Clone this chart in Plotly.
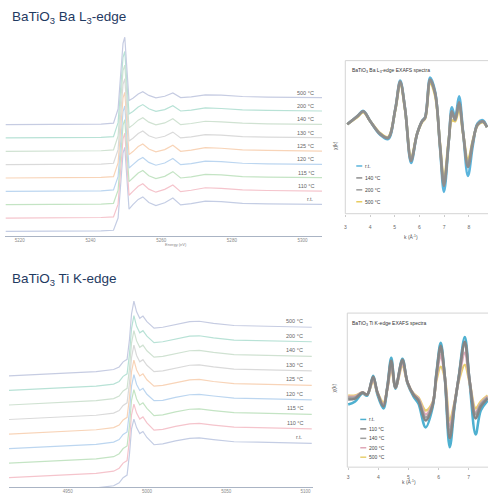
import numpy as np
import plotly.graph_objects as go

W, H = 488, 494

# ---------------- data ----------------
temps = ["r.t.", "110 °C", "115 °C", "120 °C", "125 °C", "130 °C", "140 °C", "200 °C", "500 °C"]

# Ba L3-edge XANES (normalised absorption)
E_ba = [5216, 5225, 5235, 5243, 5246.5, 5247.8, 5248.6, 5249.2, 5249.7, 5250.2, 5250.9, 5252,
        5253.5, 5254.8, 5256.5, 5258.5, 5261, 5263.3, 5265.5, 5268.5, 5272.5, 5277, 5283, 5290, 5298, 5305.5]
ba_rt  = [0.00, 0.00, 0.01, 0.02, 0.04, 0.48, 1.80, 2.82, 3.02, 2.12, 0.80, 0.96, 1.15, 1.24, 1.04, 0.93, 1.03, 1.20, 0.95, 1.00, 1.09, 1.07, 1.01, 0.99, 0.98, 0.97]
ba_110 = [0.00, 0.00, 0.01, 0.02, 0.04, 0.50, 1.83, 2.85, 3.05, 2.15, 0.82, 0.96, 1.14, 1.23, 1.04, 0.93, 1.03, 1.19, 0.95, 1.00, 1.09, 1.07, 1.01, 0.99, 0.98, 0.97]
ba_115 = [0.00, 0.00, 0.01, 0.02, 0.05, 0.52, 1.85, 2.86, 3.06, 2.16, 0.83, 0.96, 1.14, 1.23, 1.04, 0.94, 1.02, 1.19, 0.96, 1.00, 1.09, 1.07, 1.01, 0.99, 0.98, 0.97]
ba_120 = [0.00, 0.00, 0.01, 0.02, 0.05, 0.53, 1.86, 2.87, 3.07, 2.17, 0.84, 0.96, 1.13, 1.22, 1.04, 0.94, 1.02, 1.18, 0.96, 1.00, 1.09, 1.07, 1.01, 0.99, 0.98, 0.97]
ba_125 = [0.00, 0.00, 0.01, 0.02, 0.05, 0.54, 1.87, 2.88, 3.08, 2.18, 0.84, 0.95, 1.13, 1.22, 1.04, 0.94, 1.02, 1.18, 0.96, 1.00, 1.09, 1.07, 1.01, 0.99, 0.98, 0.97]
ba_130 = [0.00, 0.00, 0.01, 0.02, 0.05, 0.54, 1.88, 2.89, 3.09, 2.19, 0.85, 0.95, 1.12, 1.21, 1.04, 0.95, 1.02, 1.17, 0.96, 1.00, 1.08, 1.06, 1.01, 0.99, 0.98, 0.97]
ba_140 = [0.00, 0.00, 0.01, 0.02, 0.05, 0.55, 1.89, 2.90, 3.10, 2.20, 0.85, 0.95, 1.12, 1.21, 1.05, 0.95, 1.02, 1.17, 0.96, 1.00, 1.08, 1.06, 1.01, 0.99, 0.98, 0.97]
ba_200 = [0.00, 0.00, 0.01, 0.02, 0.05, 0.55, 1.90, 2.90, 3.11, 2.20, 0.86, 0.95, 1.11, 1.20, 1.05, 0.96, 1.02, 1.16, 0.97, 1.00, 1.08, 1.06, 1.01, 0.99, 0.98, 0.97]
ba_500 = [0.00, 0.00, 0.01, 0.02, 0.05, 0.56, 1.92, 2.92, 3.14, 2.22, 0.87, 0.95, 1.10, 1.18, 1.05, 0.96, 1.02, 1.14, 0.97, 1.00, 1.07, 1.06, 1.01, 0.99, 0.98, 0.97]
ba_xanes = [ba_rt, ba_110, ba_115, ba_120, ba_125, ba_130, ba_140, ba_200, ba_500]
ba_ticks = [5220, 5240, 5260, 5280, 5300]

# Ti K-edge XANES (normalised absorption)
E_ti = [4913, 4930, 4950, 4968, 4979, 4982.5, 4985, 4987.5, 4989, 4990.3, 4991.8, 4993.5, 4995.5,
        4997.5, 5000, 5004.5, 5010, 5018, 5027, 5033, 5042, 5055, 5070, 5088, 5104]
ti_rt  = [-0.15, -0.12, -0.09, -0.05, 0.00, 0.07, 0.19, 0.25, 0.74, 1.33, 1.56, 1.36, 1.22, 1.27, 1.13, 0.96, 0.98, 1.05, 1.11, 1.12, 1.08, 1.03, 1.02, 1.00, 0.99]
ti_110 = [-0.15, -0.12, -0.09, -0.05, 0.00, 0.07, 0.19, 0.25, 0.73, 1.32, 1.57, 1.36, 1.22, 1.27, 1.13, 0.96, 0.98, 1.05, 1.11, 1.12, 1.08, 1.03, 1.02, 1.00, 0.99]
ti_115 = [-0.15, -0.12, -0.09, -0.05, 0.00, 0.07, 0.19, 0.25, 0.72, 1.32, 1.57, 1.35, 1.21, 1.26, 1.13, 0.96, 0.98, 1.05, 1.11, 1.12, 1.08, 1.03, 1.02, 1.00, 0.99]
ti_120 = [-0.15, -0.12, -0.09, -0.05, 0.00, 0.06, 0.18, 0.24, 0.72, 1.31, 1.58, 1.35, 1.21, 1.26, 1.12, 0.97, 0.98, 1.05, 1.11, 1.12, 1.08, 1.03, 1.02, 1.00, 0.99]
ti_125 = [-0.15, -0.12, -0.09, -0.05, 0.00, 0.06, 0.18, 0.24, 0.71, 1.31, 1.58, 1.35, 1.21, 1.26, 1.12, 0.97, 0.99, 1.05, 1.12, 1.13, 1.08, 1.03, 1.02, 1.00, 0.99]
ti_130 = [-0.15, -0.12, -0.09, -0.05, 0.00, 0.06, 0.18, 0.24, 0.71, 1.30, 1.59, 1.35, 1.20, 1.25, 1.12, 0.97, 0.99, 1.05, 1.12, 1.13, 1.08, 1.03, 1.02, 1.00, 0.99]
ti_140 = [-0.15, -0.12, -0.09, -0.05, 0.00, 0.06, 0.18, 0.24, 0.70, 1.30, 1.59, 1.35, 1.20, 1.25, 1.12, 0.97, 0.99, 1.05, 1.12, 1.13, 1.08, 1.03, 1.02, 1.00, 0.99]
ti_200 = [-0.15, -0.12, -0.09, -0.05, 0.00, 0.06, 0.18, 0.24, 0.70, 1.30, 1.60, 1.35, 1.20, 1.25, 1.12, 0.97, 0.99, 1.05, 1.12, 1.13, 1.08, 1.03, 1.02, 1.00, 0.99]
ti_500 = [-0.15, -0.12, -0.09, -0.05, 0.00, 0.06, 0.18, 0.24, 0.70, 1.30, 1.60, 1.35, 1.20, 1.25, 1.12, 0.97, 0.99, 1.05, 1.12, 1.13, 1.08, 1.03, 1.02, 1.00, 0.99]
ti_xanes = [ti_rt, ti_110, ti_115, ti_120, ti_125, ti_130, ti_140, ti_200, ti_500]
ti_ticks = [4950, 5000, 5050, 5100]

# Ba L3-edge EXAFS
ba_exafs_names = ["r.t.", "140 °C", "200 °C", "500 °C"]
k_ba = [3.08, 3.48, 3.73, 4.01, 4.41, 4.73, 5.02, 5.22, 5.42, 5.66, 5.90, 6.10, 6.23, 6.43,
        6.63, 6.83, 6.99, 7.19, 7.31, 7.44, 7.60, 7.76, 7.96, 8.16, 8.35, 8.56, 8.73]
chi_ba_rt  = [0.25, 0.65, 0.92, 0.40, -0.28, -0.50, 1.00, 2.45, 1.00, -1.70, -0.25, 0.40, 0.62, 2.60, 1.90, -0.95, -3.15, -0.50, 1.10, 0.60, 1.65, -0.10, -2.35, -0.80, 0.30, 0.45, 0.10]
chi_ba_140 = [0.25, 0.65, 0.90, 0.40, -0.25, -0.45, 1.00, 2.40, 1.00, -1.60, -0.25, 0.40, 0.60, 2.50, 1.85, -0.85, -2.85, -0.50, 0.90, 0.50, 1.35, -0.15, -1.90, -0.65, 0.25, 0.40, 0.10]
chi_ba_200 = [0.25, 0.63, 0.88, 0.40, -0.22, -0.42, 0.98, 2.35, 0.98, -1.52, -0.25, 0.38, 0.58, 2.42, 1.80, -0.80, -2.70, -0.50, 0.80, 0.45, 1.25, -0.15, -1.75, -0.60, 0.22, 0.38, 0.10]
chi_ba_500 = [0.25, 0.60, 0.85, 0.40, -0.20, -0.40, 0.95, 2.30, 0.95, -1.45, -0.25, 0.35, 0.55, 2.30, 1.70, -0.75, -2.55, -0.45, 0.45, 0.40, 1.05, -0.20, -1.55, -0.55, 0.20, 0.35, 0.10]
ba_exafs = [chi_ba_rt, chi_ba_140, chi_ba_200, chi_ba_500]

# Ti K-edge EXAFS
ti_exafs_names = ["r.t.", "110 °C", "140 °C", "200 °C", "500 °C"]
k_ti = [3.00, 3.23, 3.47, 3.63, 3.83, 3.97, 4.17, 4.30, 4.43, 4.57, 4.80, 4.97, 5.17, 5.33,
        5.57, 5.80, 5.93, 6.07, 6.20, 6.37, 6.53, 6.67, 6.87, 7.03, 7.23, 7.40, 7.63]
chi_ti_rt  = [-0.60, -0.45, -0.05, -0.15, 0.85, -0.10, -0.80, 0.30, 1.75, 0.20, 1.70, 0.45, -0.20, -0.55, -1.75, -0.75, 1.00, 2.50, 0.90, -2.75, -0.70, 0.80, 2.80, 0.50, -2.10, -0.90, -0.40]
chi_ti_110 = [-0.35, -0.30, 0.00, -0.10, 0.80, 0.00, -0.70, 0.28, 1.60, 0.25, 1.65, 0.50, -0.12, -0.40, -1.40, -0.65, 0.95, 2.35, 0.90, -2.30, -0.62, 0.78, 2.55, 0.60, -1.30, -0.70, -0.30]
chi_ti_140 = [-0.25, -0.25, 0.00, -0.10, 0.75, 0.00, -0.65, 0.25, 1.50, 0.25, 1.60, 0.50, -0.10, -0.35, -1.25, -0.60, 0.90, 2.25, 0.90, -2.00, -0.60, 0.75, 2.50, 0.60, -1.10, -0.60, -0.25]
chi_ti_200 = [-0.20, -0.20, 0.00, -0.10, 0.70, 0.00, -0.60, 0.22, 1.40, 0.25, 1.50, 0.50, -0.08, -0.30, -1.10, -0.55, 0.80, 1.90, 0.85, -1.70, -0.55, 0.70, 2.00, 0.55, -1.00, -0.55, -0.20]
chi_ti_500 = [-0.15, -0.15, 0.00, -0.10, 0.60, 0.00, -0.50, 0.20, 1.25, 0.25, 1.35, 0.50, -0.05, -0.25, -0.90, -0.50, 0.65, 1.30, 0.80, -1.40, -0.50, 0.60, 1.40, 0.50, -0.80, -0.45, -0.15]
ti_exafs = [chi_ti_rt, chi_ti_110, chi_ti_140, chi_ti_200, chi_ti_500]
k_ticks_ba = [3, 4, 5, 6, 7, 8]
k_ticks_ti = [3, 4, 5, 6, 7]

# ---------------- styles ----------------
xanes_colors = ["#c4cde4", "#f5c4cc", "#c4e4c4", "#bcd6f0", "#f8d4b8",
                "#dadada", "#d0e2d2", "#b8e2d6", "#c6cce2"]
ba_exafs_colors = ["#5ab4dc", "#8e8e8e", "#9c9c9c", "#e8cc60"]
ba_exafs_order = [0, 3, 2, 1]
ti_exafs_colors = ["#4eb0d0", "#858585", "#a0a0a0", "#e0a8b8", "#e8d070"]
ti_exafs_order = [0, 4, 3, 2, 1]
NAVY = "#1f3a62"
FONT = "Liberation Sans, Arial, sans-serif"


def px(p):
    return p / W


def py(p):
    return 1 - p / H


fig = go.Figure()

# Ba XANES stack (x / y)
ba_off = 0.48
for i, (vals, col) in enumerate(zip(ba_xanes, xanes_colors)):
    fig.add_trace(go.Scatter(x=E_ba, y=np.array(vals) + i * ba_off, mode="lines",
                             line=dict(color=col, width=1.2), xaxis="x", yaxis="y",
                             showlegend=False, hoverinfo="skip"))
# Ti XANES stack (x2 / y2)
ti_off = 0.34
for i, (vals, col) in enumerate(zip(ti_xanes, xanes_colors)):
    fig.add_trace(go.Scatter(x=E_ti, y=np.array(vals) + i * ti_off, mode="lines",
                             line=dict(color=col, width=1.2), xaxis="x2", yaxis="y2",
                             showlegend=False, hoverinfo="skip"))
# Ba EXAFS (x3 / y3)
for j in ba_exafs_order:
    fig.add_trace(go.Scatter(x=k_ba, y=ba_exafs[j], mode="lines",
                             line=dict(color=ba_exafs_colors[j], width=2.6, shape="spline"),
                             xaxis="x3", yaxis="y3", showlegend=False, hoverinfo="skip"))
# Ti EXAFS (x4 / y4)
for j in ti_exafs_order:
    fig.add_trace(go.Scatter(x=k_ti, y=ti_exafs[j], mode="lines",
                             line=dict(color=ti_exafs_colors[j], width=2.6, shape="spline"),
                             xaxis="x4", yaxis="y4", showlegend=False, hoverinfo="skip"))

annotations = []
shapes = []

# temperature labels at the right of the stacks
for i, (t, vals) in enumerate(zip(temps, ba_xanes)):
    annotations.append(dict(x=5303.7, y=vals[-1] + i * ba_off, xref="x", yref="y", text=t,
                            showarrow=False, xanchor="right", yanchor="middle", yshift=5,
                            font=dict(size=5.5, color="#666666", family=FONT)))
for i, (t, vals) in enumerate(zip(temps, ti_xanes)):
    annotations.append(dict(x=5099.9, y=vals[-1] + i * ti_off, xref="x2", yref="y2", text=t,
                            showarrow=False, xanchor="right", yanchor="middle", yshift=6,
                            font=dict(size=5.5, color="#666666", family=FONT)))

# panel titles
annotations.append(dict(x=px(9), y=py(18), xref="paper", yref="paper", showarrow=False,
                        text="BaTiO<sub>3</sub> Ba L<sub>3</sub>-edge", xanchor="left", yanchor="middle",
                        font=dict(size=13.5, color=NAVY, family=FONT)))
annotations.append(dict(x=px(9), y=py(281), xref="paper", yref="paper", showarrow=False,
                        text="BaTiO<sub>3</sub> Ti K-edge", xanchor="left", yanchor="middle",
                        font=dict(size=13.5, color=NAVY, family=FONT)))

# EXAFS inner titles
annotations.append(dict(x=px(350), y=py(71), xref="paper", yref="paper", showarrow=False,
                        text="BaTiO<sub>3</sub> Ba L<sub>3</sub>-edge EXAFS spectra", xanchor="left",
                        yanchor="middle", font=dict(size=5, color="#333333", family=FONT)))
annotations.append(dict(x=px(350), y=py(325), xref="paper", yref="paper", showarrow=False,
                        text="BaTiO<sub>3</sub> Ti K-edge EXAFS spectra", xanchor="left",
                        yanchor="middle", font=dict(size=5, color="#333333", family=FONT)))
# EXAFS y titles
for yy in (140, 397):
    annotations.append(dict(x=px(339), y=py(yy), xref="paper", yref="paper", showarrow=False,
                            text="χ(k)", textangle=-90, font=dict(size=5, color="#555555", family=FONT)))
# EXAFS x titles
annotations.append(dict(x=px(420), y=py(238), xref="paper", yref="paper", showarrow=False,
                        text="k (Å<sup>-1</sup>)", font=dict(size=5, color="#555555", family=FONT)))
annotations.append(dict(x=px(418), y=py(490), xref="paper", yref="paper", showarrow=False,
                        text="k (Å<sup>-1</sup>)", font=dict(size=5, color="#555555", family=FONT)))
# XANES x title (Ba)
annotations.append(dict(x=px(162), y=py(246), xref="paper", yref="paper", showarrow=False,
                        text="Energy (eV)", font=dict(size=4, color="#888888", family=FONT)))

# EXAFS frames (cut by the right edge of the picture)
shapes.append(dict(type="rect", xref="paper", yref="paper", x0=px(345), x1=1.05, y0=py(215), y1=py(61),
                   line=dict(color="#d4d4d4", width=1), layer="below"))
shapes.append(dict(type="rect", xref="paper", yref="paper", x0=px(347), x1=1.05, y0=py(470), y1=py(315),
                   line=dict(color="#d4d4d4", width=1), layer="below"))

# manual legends
for j, (nm, col) in enumerate(zip(ba_exafs_names, ba_exafs_colors)):
    yy = 167 + j * 12
    shapes.append(dict(type="line", xref="paper", yref="paper", x0=px(356), x1=px(362), y0=py(yy), y1=py(yy),
                       line=dict(color=col, width=1.5)))
    annotations.append(dict(x=px(363), y=py(yy), xref="paper", yref="paper", text=nm, showarrow=False,
                            xanchor="left", yanchor="middle", font=dict(size=5, color="#444444", family=FONT)))
for j, (nm, col) in enumerate(zip(ti_exafs_names, ti_exafs_colors)):
    yy = 422 + j * 9.5
    shapes.append(dict(type="line", xref="paper", yref="paper", x0=px(360), x1=px(366), y0=py(yy), y1=py(yy),
                       line=dict(color=col, width=1.5)))
    annotations.append(dict(x=px(367), y=py(yy), xref="paper", yref="paper", text=nm, showarrow=False,
                            xanchor="left", yanchor="middle", font=dict(size=5, color="#444444", family=FONT)))

axis_common = dict(showgrid=False, zeroline=False)

fig.update_layout(
    width=W, height=H, margin=dict(l=0, r=0, t=0, b=0),
    paper_bgcolor="white", plot_bgcolor="rgba(0,0,0,0)",
    font=dict(family=FONT),
    xaxis=dict(domain=[px(4), px(322)], range=[5215.8, 5305.6], anchor="y", tickvals=ba_ticks,
               showline=True, linecolor="#aab4c4", linewidth=1, ticks="", ticklabelstandoff=0,
               tickfont=dict(size=4.5, color="#8a8a8a"), **axis_common),
    yaxis=dict(domain=[py(237), py(35)], range=[-0.15, 7.07], anchor="x", visible=False, **axis_common),
    xaxis2=dict(domain=[px(8), px(313)], range=[4913, 5105], anchor="y2", tickvals=ti_ticks,
                showline=True, linecolor="#aab4c4", linewidth=1, ticks="", ticklabelstandoff=0,
                tickfont=dict(size=4.5, color="#8a8a8a"), **axis_common),
    yaxis2=dict(domain=[py(490), py(300)], range=[-0.03, 4.39], anchor="x2", visible=False, **axis_common),
    xaxis3=dict(domain=[px(345), 1.0], range=[3.0, 8.77], anchor="y3", tickvals=k_ticks_ba,
                showline=False, ticks="outside", ticklen=2, tickcolor="#cccccc", ticklabelstandoff=6,
                tickfont=dict(size=5, color="#666666"), **axis_common),
    yaxis3=dict(domain=[py(215), py(61)], range=[-4.25, 3.45], anchor="x3", showticklabels=False,
                showline=False, **axis_common),
    xaxis4=dict(domain=[px(347), 1.0], range=[2.97, 7.64], anchor="y4", tickvals=k_ticks_ti,
                showline=False, ticks="outside", ticklen=2, tickcolor="#cccccc", ticklabelstandoff=3,
                tickfont=dict(size=5, color="#666666"), **axis_common),
    yaxis4=dict(domain=[py(470), py(315)], range=[-3.75, 4.0], anchor="x4", showticklabels=False,
                showline=False, **axis_common),
    annotations=annotations, shapes=shapes,
)

fig.write_html("out.html", config={"displayModeBar": False},
               post_script="document.body.style.margin='0';")
